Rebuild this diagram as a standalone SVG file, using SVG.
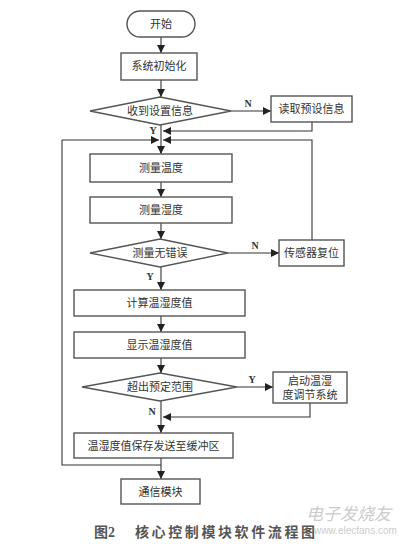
<svg xmlns="http://www.w3.org/2000/svg" width="413" height="547" viewBox="0 0 413 547">
<style>
.box{fill:#fff;stroke:#555;stroke-width:1.4}
.ln{fill:none;stroke:#333;stroke-width:1.1}
.t{font-family:"Liberation Serif","Noto Sans CJK SC",serif;font-size:11px;fill:#333;text-anchor:middle}
.lab{font-family:"Liberation Serif",serif;font-size:10px;font-weight:bold;fill:#333;text-anchor:middle}
.cap{font-family:"Liberation Serif","Noto Sans CJK SC",serif;font-size:14px;font-weight:bold;fill:#555}
.wm{font-family:"Liberation Sans","Noto Sans CJK SC",sans-serif;fill:#ccc}
</style>
<defs>
<marker id="ah" viewBox="0 0 8 8" refX="8" refY="4" markerWidth="8" markerHeight="8" markerUnits="userSpaceOnUse" orient="auto">
<path d="M0,0 L8,4 L0,8 z" fill="#222"/>
</marker>
</defs>
<rect width="413" height="547" fill="#fff"/>
<g id="connectors">
<path class="ln" d="M161,37 V53" marker-end="url(#ah)"/>
<path class="ln" d="M161,80 V97" marker-end="url(#ah)"/>
<path class="ln" d="M231,111 H271" marker-end="url(#ah)"/>
<path class="ln" d="M312,122 V131 H163" marker-end="url(#ah)"/>
<path class="ln" d="M161,125 V154" marker-end="url(#ah)"/>
<path class="ln" d="M62,140 H159" marker-end="url(#ah)"/>
<path class="ln" d="M312,240 V140 H163" marker-end="url(#ah)"/>
<path class="ln" d="M161,182 V197" marker-end="url(#ah)"/>
<path class="ln" d="M161,223 V239" marker-end="url(#ah)"/>
<path class="ln" d="M228,253 H279" marker-end="url(#ah)"/>
<path class="ln" d="M161,267 V290" marker-end="url(#ah)"/>
<path class="ln" d="M161,316 V332" marker-end="url(#ah)"/>
<path class="ln" d="M161,358 V373" marker-end="url(#ah)"/>
<path class="ln" d="M237,387 H273" marker-end="url(#ah)"/>
<path class="ln" d="M310,403 V417 H163" marker-end="url(#ah)"/>
<path class="ln" d="M161,401 V433" marker-end="url(#ah)"/>
<path class="ln" d="M161,458 V479" marker-end="url(#ah)"/>
<path class="ln" d="M161,465 H62 V140"/>
<text class="lab" x="248" y="107">N</text>
<text class="lab" x="153" y="134">Y</text>
<text class="lab" x="255" y="249">N</text>
<text class="lab" x="150" y="280">Y</text>
<text class="lab" x="252" y="383">Y</text>
<text class="lab" x="152" y="415">N</text>
</g>
<g id="start"><rect class="box" x="127" y="11" width="68" height="26" rx="13"/><text class="t" x="161" y="28">开始</text></g>
<g id="init"><rect class="box" x="121" y="53" width="76" height="27"/><text class="t" x="159" y="70">系统初始化</text></g>
<g id="recv"><polygon class="box" points="90,111 160,97 231,111 160,125"/><text class="t" x="160" y="115">收到设置信息</text></g>
<g id="readpreset"><rect class="box" x="271" y="96" width="81" height="26"/><text class="t" x="311.5" y="113">读取预设信息</text></g>
<g id="temp"><rect class="box" x="90" y="154" width="142" height="28"/><text class="t" x="161" y="172">测量温度</text></g>
<g id="hum"><rect class="box" x="90" y="197" width="142" height="26"/><text class="t" x="161" y="214">测量湿度</text></g>
<g id="noerr"><polygon class="box" points="90,253 160,239 228,253 160,267"/><text class="t" x="160" y="257">测量无错误</text></g>
<g id="reset"><rect class="box" x="279" y="240" width="65" height="26"/><text class="t" x="311.5" y="257">传感器复位</text></g>
<g id="calc"><rect class="box" x="74" y="290" width="171" height="26"/><text class="t" x="159.5" y="307">计算温湿度值</text></g>
<g id="show"><rect class="box" x="74" y="332" width="171" height="26"/><text class="t" x="159.5" y="349">显示温湿度值</text></g>
<g id="range"><polygon class="box" points="82,387 160,373 237,387 160,401"/><text class="t" x="160" y="391">超出预定范围</text></g>
<g id="adjust"><rect class="box" x="273" y="372" width="74" height="31"/><text class="t" x="310" y="385">启动温湿</text><text class="t" x="310" y="399">度调节系统</text></g>
<g id="save"><rect class="box" x="74" y="433" width="159" height="25"/><text class="t" x="153.5" y="450">温湿度值保存发送至缓冲区</text></g>
<g id="comm"><rect class="box" x="121" y="479" width="79" height="25"/><text class="t" x="160.5" y="496">通信模块</text></g>
<g id="caption">
<text class="cap" x="94" y="537">图2</text>
<text class="cap" x="135" y="537" letter-spacing="2.6">核心控制模块软件流程图</text>
</g>
<g id="watermark">
<text class="wm" x="306" y="520" font-size="17" font-style="italic">电子发烧友</text>
<text class="wm" x="314" y="534" font-size="10">www.elecfans.com</text>
</g>
</svg>
